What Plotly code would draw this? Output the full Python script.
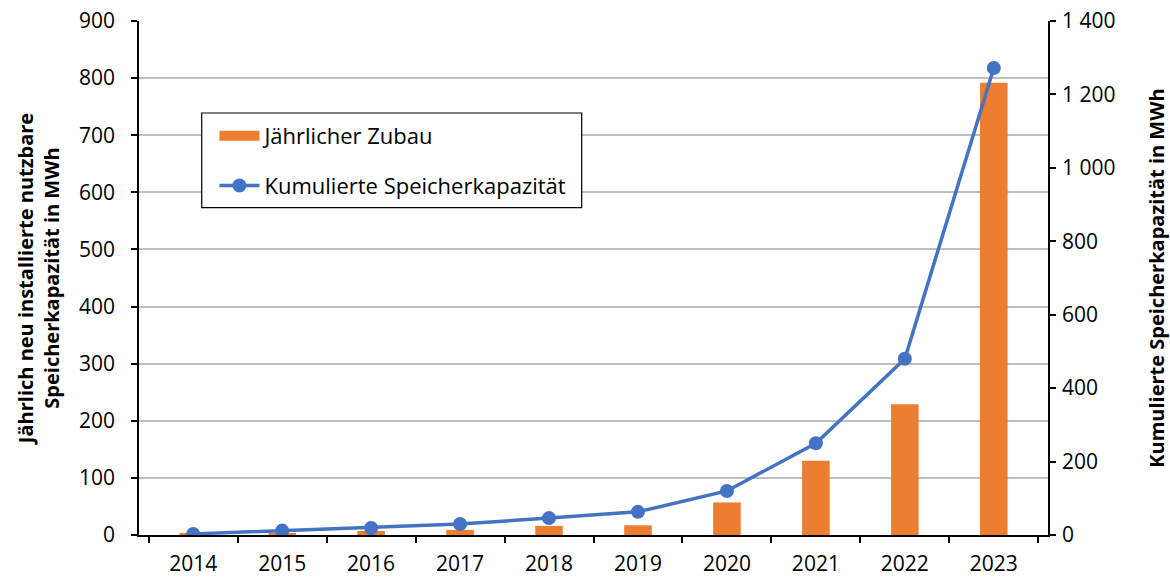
"""Jährlicher Zubau und kumulierte Speicherkapazität (2014-2023)."""

import plotly.graph_objects as go

YEARS = ["2014", "2015", "2016", "2017", "2018", "2019", "2020", "2021", "2022", "2023"]
ZUBAU = [2, 3, 7, 9, 16, 17, 57, 130, 229, 792]
KUMULIERT = [3, 12, 19, 30, 46, 63, 120, 250, 480, 1272]

LEFT_TICKS = list(range(0, 1000, 100))
RIGHT_TICKS = list(range(0, 1600, 200))

FONT = "Open Sans, sans-serif"
ORANGE = "#ED7D31"
BLUE = "#4472C4"


def main():
    fig = go.Figure()

    fig.add_trace(go.Bar(
        x=YEARS,
        y=ZUBAU,
        name="Jährlicher Zubau",
        marker=dict(color=ORANGE, line=dict(width=0)),
        showlegend=False,
    ))

    fig.add_trace(go.Scatter(
        x=YEARS,
        y=KUMULIERT,
        name="Kumulierte Speicherkapazität",
        mode="lines+markers",
        line=dict(color=BLUE, width=3.5),
        marker=dict(color=BLUE, size=14),
        yaxis="y2",
        legendgroup="b",
        legendrank=2,
    ))

    # legend-only entry so the bar key is a wide rectangle like in Excel
    fig.add_trace(go.Scatter(
        x=[None], y=[None],
        name="Jährlicher Zubau",
        mode="lines",
        line=dict(color=ORANGE, width=12),
        legendgroup="a",
        legendrank=1,
    ))

    # legend frame (wider than plotly's own border would be)
    fig.add_shape(
        type="rect", xref="paper", yref="paper",
        x0=0.069, x1=0.487, y0=0.637, y1=0.821,
        line=dict(color="black", width=1.2),
        fillcolor="white", layer="above",
    )

    axis_common = dict(
        showline=True, linecolor="black", linewidth=1.5,
        ticks="outside", ticklen=6, tickcolor="black", tickwidth=1.5,
        tickfont=dict(size=21, color="black"),
        zeroline=False,
        automargin=False,
    )

    fig.update_layout(
        width=1170, height=578,
        margin=dict(l=139, r=122, t=21, b=43),
        plot_bgcolor="white",
        paper_bgcolor="white",
        font=dict(family=FONT, size=21, color="black"),
        separators=", ",
        bargap=0.69,
        showlegend=True,
        legend=dict(
            x=0.083, y=0.817, xanchor="left", yanchor="top",
            bgcolor="rgba(0,0,0,0)",
            font=dict(size=22, color="black"),
            traceorder="grouped",
            tracegroupgap=18,
            itemwidth=40,
        ),
        xaxis=dict(
            **axis_common,
            type="category",
            tickson="boundaries",
            showgrid=False,
            ticklabelstandoff=9,
        ),
        yaxis=dict(
            **axis_common,
            range=[0, 900],
            tickvals=LEFT_TICKS,
            showgrid=True, gridcolor="#BFBFBF", gridwidth=1.5,
            ticklabelstandoff=12,
            title=dict(
                text="<b>Jährlich neu installierte nutzbare<br>Speicherkapazität in MWh</b>",
                font=dict(size=20),
                standoff=14,
            ),
        ),
        yaxis2=dict(
            **axis_common,
            overlaying="y",
            side="right",
            range=[0, 1400],
            tickvals=RIGHT_TICKS,
            separatethousands=True,
            showgrid=False,
            ticklabelstandoff=2,
            title=dict(
                text="<b>Kumulierte Speicherkapazität in MWh</b>",
                font=dict(size=20),
                standoff=36,
            ),
        ),
    )

    # drop the browser's default body margin so the figure fills the window
    fig.write_html(
        "out.html",
        config={"displayModeBar": False},
        post_script="document.body.style.margin='0';",
    )


if __name__ == "__main__":
    main()
